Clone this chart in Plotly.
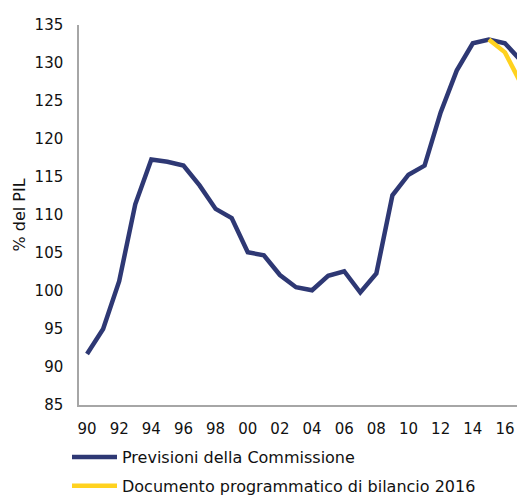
import plotly.graph_objects as go

# anni e debito pubblico (% del PIL)
years = list(range(1990, 2018))
commissione = [91.7, 95.0, 101.3, 111.4, 117.3, 117.0, 116.5, 113.9, 110.8, 109.6,
               105.1, 104.7, 102.1, 100.5, 100.1, 102.0, 102.6, 99.8, 102.3, 112.6,
               115.3, 116.5, 123.5, 129.0, 132.6, 133.1, 132.6, 130.3]
dpb_years = [2015, 2016, 2017]
dpb_2016 = [133.1, 131.4, 127.3]

tick_years = list(range(1990, 2017, 2))
tick_text = [str(y)[2:] for y in tick_years]

navy = "#2E3874"
yellow = "#FFD21F"
font_fam = "DejaVu Sans"

fig = go.Figure()

fig.add_trace(go.Scatter(
    x=years, y=commissione, mode="lines",
    name="Previsioni della Commissione", legendgroup="a",
    line=dict(color=navy, width=4.5),
))
fig.add_trace(go.Scatter(
    x=dpb_years, y=dpb_2016, mode="lines",
    name="Documento programmatico di bilancio 2016", legendgroup="b",
    line=dict(color=yellow, width=4.5),
))

fig.update_xaxes(
    range=[1989.5, 2016.75],
    tickvals=tick_years, ticktext=tick_text,
    showgrid=False, zeroline=False,
    showline=True, linecolor="#A6A6A6", linewidth=1.5,
    ticks="", ticklabelstandoff=9,
    tickfont=dict(family=font_fam, size=15, color="#111111"),
)
fig.update_yaxes(
    range=[85, 135], dtick=5,
    showgrid=False, zeroline=False,
    showline=True, linecolor="#A6A6A6", linewidth=1.5,
    ticks="", ticklabelstandoff=11,
    tickfont=dict(family=font_fam, size=15, color="#111111"),
    title=dict(text="% del PIL", standoff=5,
               font=dict(family=font_fam, size=16, color="#111111")),
)

fig.update_layout(
    width=517, height=495,
    margin=dict(l=79, r=0, t=25, b=90, autoexpand=False),
    plot_bgcolor="white", paper_bgcolor="white",
    font=dict(family=font_fam, color="#111111"),
    legend=dict(
        orientation="v",
        x=-12 / 438, y=-35 / 380,
        xanchor="left", yanchor="top",
        itemwidth=45, tracegroupgap=5,
        font=dict(family=font_fam, size=16, color="#111111"),
        bgcolor="rgba(0,0,0,0)",
    ),
)

# niente margine della pagina, così la figura riempie la finestra
fig.write_html("out.html", config={"displayModeBar": False},
               post_script="document.body.style.margin='0';")
